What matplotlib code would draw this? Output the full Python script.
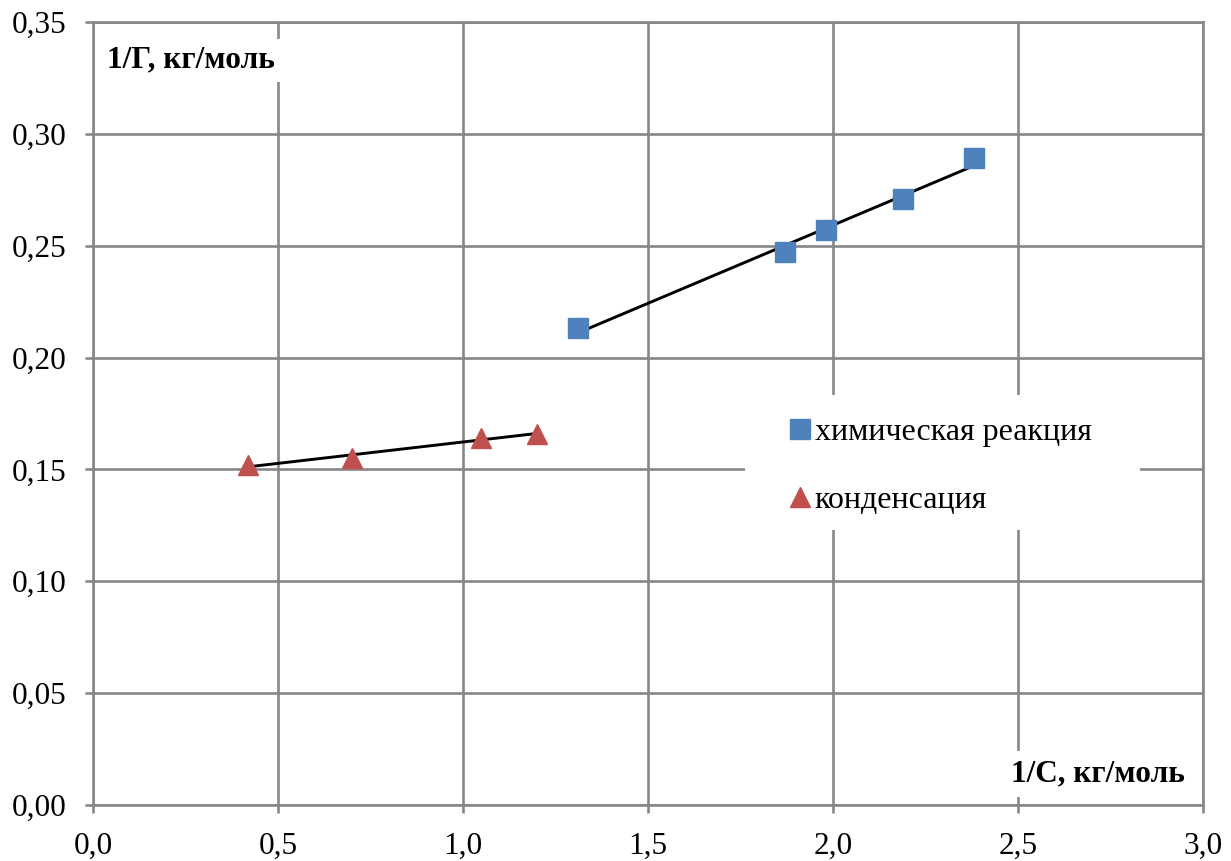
import numpy as np
import matplotlib.pyplot as plt
from matplotlib.lines import Line2D
from matplotlib.patches import Rectangle

plt.rcParams["font.family"] = ["Liberation Serif", "DejaVu Serif"]

# химическая реакция
x_chem = [1.31, 1.87, 1.98, 2.19, 2.38]
y_chem = [0.213, 0.247, 0.257, 0.271, 0.289]
# конденсация
x_cond = [0.42, 0.70, 1.05, 1.20]
y_cond = [0.152, 0.155, 0.164, 0.166]

x_ticks = [0.0, 0.5, 1.0, 1.5, 2.0, 2.5, 3.0]
y_ticks = [0.00, 0.05, 0.10, 0.15, 0.20, 0.25, 0.30, 0.35]

BLUE = "#4F81BD"
RED = "#C0504D"
GRID = "#878787"

fig = plt.figure(figsize=(12.31, 8.61), dpi=100)
ax = fig.add_axes([0.0755, 0.065, 0.9018, 0.9095])

ax.set_xlim(0, 3.0)
ax.set_ylim(0, 0.35)
ax.set_xticks(x_ticks)
ax.set_yticks(y_ticks)
ax.set_xticklabels([f"{v:.1f}".replace(".", ",") for v in x_ticks])
ax.set_yticklabels([f"{v:.2f}".replace(".", ",") for v in y_ticks])
ax.grid(True, color=GRID, linewidth=1.9)
ax.set_axisbelow(True)
for s in ax.spines.values():
    s.set_color(GRID)
    s.set_linewidth(1.9)
ax.tick_params(direction="out", length=6, width=1.9, color=GRID,
               labelsize=22.5, pad=13)

# линии тренда
for xs, ys in [(x_chem, y_chem), (x_cond, y_cond)]:
    k, b = np.polyfit(xs, ys, 1)
    xl = np.array([min(xs), max(xs)])
    ax.plot(xl, k * xl + b, color="black", linewidth=2.1, zorder=3)

ax.plot(x_chem, y_chem, "s", color=BLUE, markersize=14.5, zorder=4)
ax.plot(x_cond, y_cond, "^", color=RED, markersize=15, zorder=4)

ax.text(0.013, 0.951, "1/Г, кг/моль", transform=ax.transAxes, fontsize=22.5,
        fontweight="bold", va="center", ha="left", zorder=5,
        bbox=dict(facecolor="white", edgecolor="none", pad=5))
ax.text(0.984, 0.04, "1/С, кг/моль", transform=ax.transAxes, fontsize=22.5,
        fontweight="bold", va="center", ha="right", zorder=5,
        bbox=dict(facecolor="white", edgecolor="none", pad=6))

# белая подложка легенды
ax.add_patch(Rectangle((0.587, 0.351), 0.356, 0.173, transform=ax.transAxes,
                       facecolor="white", edgecolor="none", zorder=4.5))

handles = [
    Line2D([], [], marker="s", linestyle="none", color=BLUE, markersize=14.5),
    Line2D([], [], marker="^", linestyle="none", color=RED, markersize=15),
]
leg = ax.legend(handles, ["химическая реакция", "конденсация"],
                loc="upper left", bbox_to_anchor=(0.607, 0.525),
                fontsize=23, frameon=False,
                handlelength=0.6, handletextpad=0.15, labelspacing=1.2,
                borderpad=0.75, borderaxespad=0)
leg.set_zorder(5)

fig.savefig("out.png", dpi=100)
